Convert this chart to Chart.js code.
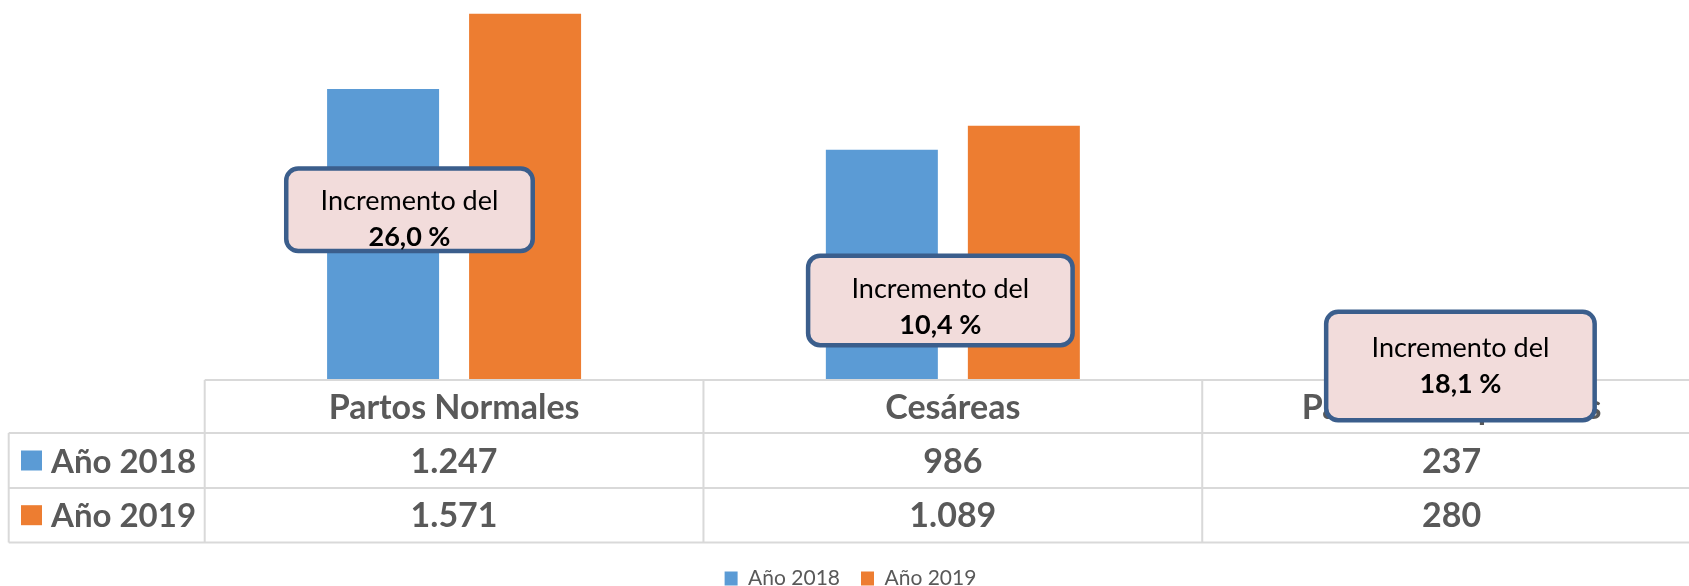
<!DOCTYPE html>
<html>
<head>
<meta charset="utf-8">
<script src="https://cdn.jsdelivr.net/npm/chart.js@4.4.0/dist/chart.umd.min.js"></script>
<style>
  html, body { margin: 0; padding: 0; background: #fff; overflow: hidden; }
  #wrap { position: relative; width: 1701px; height: 599px; }
</style>
</head>
<body>
<div id="wrap"><canvas id="partos"></canvas></div>
<script>
const categories = ['Partos Normales', 'Cesáreas', 'Partos Complicados'];
const seriesNames = ['Año 2018', 'Año 2019'];
const values2018 = [1247, 986, 237];
const values2019 = [1571, 1089, 280];
const increments = ['26,0 %', '10,4 %', '18,1 %'];

const BLUE = '#5B9BD5';
const ORANGE = '#ED7D31';
const TEXT_GREY = '#595959';
const GRID_GREY = '#D9D9D9';
const FONT = 'Lato, "Open Sans", sans-serif';

// callout boxes: offset from the category centre, top given on the value scale, size
const noteBoxes = [
    { dx: -44.6, top: 915, w: 251, h: 87 },
    { dx: -12.5, top: 540, w: 269, h: 94 },
    { dx: 8.8, top: 299, w: 273, h: 113 },
];

const fmt = (v) => String(v).replace(/\B(?=(\d{3})+(?!\d))/g, '.');

function roundedBox(ctx, x, y, w, h, r) {
    ctx.beginPath();
    ctx.moveTo(x + r, y);
    ctx.arcTo(x + w, y, x + w, y + h, r);
    ctx.arcTo(x + w, y + h, x, y + h, r);
    ctx.arcTo(x, y + h, x, y, r);
    ctx.arcTo(x, y, x + w, y, r);
    ctx.closePath();
}

// Excel style data table under the plot, then the callouts on top
const dataTable = {
    id: 'dataTable',
    afterDraw(chart) {
        const { ctx, chartArea, scales: { x, y } } = chart;
        const colW = (chartArea.right - chartArea.left) / categories.length;
        const top = chartArea.bottom + 1;
        const rows = [top, top + 53, top + 108, top + 162.4];
        const leftEdge = 8.7;

        ctx.save();
        ctx.strokeStyle = GRID_GREY;
        ctx.lineWidth = 2;
        ctx.beginPath();
        ctx.moveTo(chartArea.left, rows[0]);
        ctx.lineTo(chartArea.right, rows[0]);
        for (let r = 1; r < rows.length; r++) {
            ctx.moveTo(leftEdge, rows[r]);
            ctx.lineTo(chartArea.right, rows[r]);
        }
        ctx.moveTo(leftEdge, rows[1]);
        ctx.lineTo(leftEdge, rows[3]);
        for (let c = 0; c <= categories.length; c++) {
            const xx = chartArea.left + c * colW;
            ctx.moveTo(xx, rows[0]);
            ctx.lineTo(xx, rows[3]);
        }
        ctx.stroke();

        ctx.fillStyle = TEXT_GREY;
        ctx.font = 'bold 34px ' + FONT;
        ctx.textBaseline = 'alphabetic';
        ctx.textAlign = 'center';
        const mid = (r) => (rows[r] + rows[r + 1]) / 2 + 12;
        categories.forEach((cat, i) => {
            const cx = x.getPixelForValue(i);
            ctx.fillText(cat, cx, mid(0));
            chart.data.datasets.forEach((ds, d) => {
                ctx.fillText(fmt(ds.data[i]), cx, mid(d + 1));
            });
        });

        ctx.font = 'bold 33px ' + FONT;
        chart.data.datasets.forEach((ds, d) => {
            const cy = (rows[d + 1] + rows[d + 2]) / 2;
            ctx.fillStyle = ds.backgroundColor;
            ctx.fillRect(21, cy - 10, 21, 20);
            ctx.fillStyle = TEXT_GREY;
            ctx.textAlign = 'left';
            ctx.fillText(ds.label, 51, mid(d + 1));
        });

        increments.forEach((txt, i) => {
            const b = noteBoxes[i];
            const bx = x.getPixelForValue(i) + b.dx - b.w / 2;
            const by = y.getPixelForValue(b.top);
            roundedBox(ctx, bx + 2.25, by + 2.25, b.w - 4.5, b.h - 4.5, 12);
            ctx.fillStyle = '#F2DCDB';
            ctx.fill();
            ctx.lineWidth = 4.5;
            ctx.strokeStyle = '#3B5E8C';
            ctx.stroke();

            const base = by + 44 + (b.h - 87) * 0.15;
            ctx.fillStyle = '#000';
            ctx.textAlign = 'center';
            ctx.font = '27px ' + FONT;
            ctx.fillText('Incremento del', bx + b.w / 2, base);
            ctx.font = 'bold 27px ' + FONT;
            ctx.fillText(txt, bx + b.w / 2, base + 36);
        });
        ctx.restore();
    }
};

const ctx = document.getElementById('partos').getContext('2d');
new Chart(ctx, {
    type: 'bar',
    data: {
        labels: categories,
        datasets: [
            { label: seriesNames[0], data: values2018, backgroundColor: BLUE, borderWidth: 0 },
            { label: seriesNames[1], data: values2019, backgroundColor: ORANGE, borderWidth: 0 },
        ],
    },
    options: {
        responsive: true,
        maintainAspectRatio: false,
        animation: false,
        datasets: {
            bar: { categoryPercentage: 0.5694, barPercentage: 0.7887 },
        },
        scales: {
            x: {
                grid: { display: false },
                border: { display: false },
                ticks: { display: false },
                afterFit: (scale) => { scale.height = 168; },
            },
            y: {
                min: 0,
                max: 1630,
                grid: { display: false },
                border: { display: false },
                ticks: { display: false },
                afterFit: (scale) => { scale.width = 204.7; },
            },
        },
        plugins: {
            tooltip: { enabled: false },
            legend: {
                position: 'bottom',
                labels: {
                    boxWidth: 13,
                    boxHeight: 14,
                    padding: 21,
                    color: TEXT_GREY,
                    font: { family: FONT, size: 21 },
                },
            },
        },
    },
    plugins: [dataTable],
});
</script>
</body>
</html>
